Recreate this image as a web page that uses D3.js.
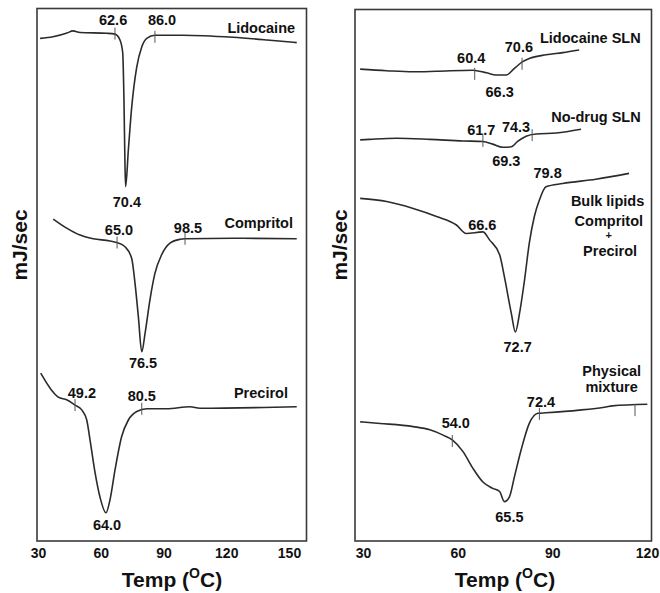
<!DOCTYPE html>
<html>
<head>
<meta charset="utf-8">
<script src="https://cdn.jsdelivr.net/npm/d3@7"></script>
<style>
  html, body { margin: 0; padding: 0; background: #fff; }
  svg { display: block; }
  text { font-family: "Liberation Sans", Arial, sans-serif; fill: #111; }
</style>
</head>
<body>
<div id="chart"></div>
<script>
// ---------------- DATA ----------------
// Tick labels (temperature, °C)
const xTicksLeft = [30, 60, 90, 120, 150];
const xTicksRight = [30, 60, 90, 120];

// Left panel thermograms: [temperature °C, heat flow (arbitrary units)]
const lidocaine = [[31.0,94.3],[37.2,94.6],[43.9,95.3],[46.7,95.7],[50.1,95.4],[63.0,95.25],[66.8,95.1],[69.2,94.0],[70.5,91.6],[71.1,82.7],[71.6,70.2],[71.9,66.5],[73.2,73.4],[74.8,81.4],[77.2,88.9],[79.6,92.7],[82.0,94.3],[85.9,94.9],[99.3,94.9],[123.2,94.5],[139.5,94.0],[153.7,93.5]];
const compritol = [[37.3,60.4],[43.7,58.7],[50.1,57.4],[56.4,56.7],[64.4,56.3],[67.6,56.0],[71.6,55.2],[74.8,53.0],[76.4,48.3],[78.0,42.0],[79.6,35.5],[81.2,39.0],[83.5,45.2],[85.9,50.2],[89.1,53.7],[93.1,55.9],[97.9,56.6],[100.3,56.7],[123.2,56.8],[153.7,56.7]];
const precirol = [[31.3,31.5],[36.5,28.3],[39.7,27.0],[43.7,26.5],[47.7,25.5],[50.9,24.6],[53.3,22.7],[54.9,18.9],[57.3,12.8],[59.6,8.3],[62.5,5.3],[64.4,7.7],[66.8,13.3],[70.0,19.6],[73.2,22.7],[77.2,24.3],[82.0,24.8],[91.5,24.8],[102.7,25.2],[107.4,24.9],[153.7,25.2]];

// Right panel thermograms
const lidocaineSLN = [[29.1,88.7],[37.5,88.4],[45.8,88.2],[53.3,88.3],[64.8,88.5],[69.1,88.0],[72.2,87.6],[75.4,87.6],[78.0,88.85],[80.6,90.1],[82.7,90.7],[88.0,91.4],[93.3,91.8],[98.5,92.3]];
const noDrugSLN = [[29.1,75.4],[32.2,75.5],[40.6,75.7],[51.2,75.5],[61.7,75.2],[68.0,75.1],[71.1,74.6],[74.3,74.0],[77.0,74.1],[79.0,75.1],[81.7,76.1],[84.9,76.5],[91.2,76.7],[99.1,77.4]];
const bulkLipids = [[29.1,64.4],[37.5,63.8],[45.9,62.5],[53.3,61.0],[59.6,59.4],[62.7,57.8],[68.0,58.1],[70.1,56.6],[73.3,53.8],[74.8,49.7],[77.0,42.8],[78.3,39.3],[79.6,42.8],[81.2,49.1],[82.7,56.0],[84.3,61.0],[85.9,64.1],[88.0,66.6],[93.3,67.2],[103.8,68.0],[114.3,69.1]];
const physicalMixture = [[29.1,22.4],[35.4,22.1],[45.9,21.5],[51.2,20.9],[55.4,19.9],[58.3,19.0],[61.7,16.8],[64.8,13.7],[68.0,11.1],[71.1,9.9],[73.3,9.3],[74.8,7.4],[76.4,8.3],[78.0,12.1],[80.1,17.1],[82.7,22.1],[85.4,24.0],[88.0,24.1],[98.5,24.6],[107.0,25.2],[109.0,25.4],[120.1,25.7]];

// Transition-temperature annotations: [text, temperature, heat-flow baseline]
const valueLabelsLeft = [["62.6",65.9,96.8],["86.0",89.3,96.8],["70.4",72.5,62.7],["65.0",68.7,57.4],["98.5",101.7,57.8],["76.5",80.2,32.5],["49.2",51.0,26.8],["80.5",79.6,26.3],["64.0",63.0,2.1]];
const nameLabelsLeft = [["Lidocaine",152.9,95.3],["Compritol",151.9,58.7],["Precirol",149.5,26.8]];
const valueLabelsRight = [["60.4",64.3,89.8],["70.6",79.4,92.0],["66.3",73.3,83.5],["61.7",67.5,76.3],["74.3",78.5,76.9],["69.3",75.4,70.4],["79.8",88.5,68.2],["66.6",67.8,58.5],["72.7",79.0,35.5],["54.0",59.4,21.2],["72.4",86.4,25.2],["65.5",76.4,3.6]];
const nameLabelsRight = [["Lidocaine SLN",118.0,93.6],["No-drug SLN",118.0,78.8]];
const blockLabelsRight = [["Bulk lipids",107.5,62.9],["Compritol",107.9,59.2],["+",107.9,56.8],["Precirol",108.3,53.6],["Physical",108.8,31.0],["mixture",108.8,28.0]];
// Onset/endset marks: [temperature, heat flow]
const marksLeft = [[66.8,95.2],[85.9,94.6],[67.8,56.0],[100.3,56.7],[47.7,25.5],[79.6,24.8]];
const marksRight = [[65.4,87.8],[80.4,89.7],[68.0,75.2],[83.6,76.3],[58.3,18.8],[85.9,23.9],[116.2,24.6]];

// ---------------- LAYOUT ----------------
const W = 660, H = 593;
const frameL = {x0: 37, x1: 306.5, y0: 8.5, y1: 541};
const frameR = {x0: 355, x1: 651.5, y0: 9.5, y1: 541};

const svg = d3.select("#chart").append("svg").attr("width", W).attr("height", H);

const xL = d3.scaleLinear().domain([30, 150]).range([38, 289]);
const xR = d3.scaleLinear().domain([30, 120]).range([363, 647]);
const yL = d3.scaleLinear().domain([0, 100]).range([frameL.y1, frameL.y1 - 533]);
const yR = d3.scaleLinear().domain([0, 100]).range([frameR.y1, frameR.y1 - 532]);

const lineColor = "#2b2b2b";

function drawPanel(frame, x, y, ticks, curves, values, names, blocks, marks, titleX, ylabX) {
  const g = svg.append("g");
  g.append("rect")
    .attr("x", frame.x0).attr("y", frame.y0)
    .attr("width", frame.x1 - frame.x0).attr("height", frame.y1 - frame.y0)
    .attr("fill", "none").attr("stroke", "#3a3a3a").attr("stroke-width", 1.6);

  const line = d3.line().x(d => x(d[0])).y(d => y(d[1])).curve(d3.curveMonotoneX);
  curves.forEach(c => {
    g.append("path").attr("d", line(c)).attr("fill", "none")
      .attr("stroke", lineColor).attr("stroke-width", 1.6).attr("stroke-linejoin", "round");
  });

  g.selectAll(null).data(marks).join("line")
    .attr("x1", d => x(d[0])).attr("x2", d => x(d[0]))
    .attr("y1", d => y(d[1]) - 6).attr("y2", d => y(d[1]) + 6)
    .attr("stroke", "#555").attr("stroke-width", 1);

  g.selectAll(null).data(values).join("text")
    .attr("x", d => x(d[1])).attr("y", d => y(d[2]))
    .attr("text-anchor", "middle").attr("font-size", 14.5).attr("font-weight", "bold")
    .text(d => d[0]);

  g.selectAll(null).data(names).join("text")
    .attr("x", d => x(d[1])).attr("y", d => y(d[2]))
    .attr("text-anchor", "end").attr("font-size", 14.5).attr("font-weight", "bold")
    .text(d => d[0]);

  g.selectAll(null).data(blocks).join("text")
    .attr("x", d => x(d[1])).attr("y", d => y(d[2]))
    .attr("text-anchor", "middle")
    .attr("font-size", d => d[0] === "+" ? 11 : 14.5).attr("font-weight", "bold")
    .text(d => d[0]);

  const axis = d3.axisBottom(x).tickValues(ticks).tickSize(0).tickPadding(7).tickFormat(d3.format("d"));
  const ag = g.append("g").attr("transform", `translate(0,${frame.y1})`).call(axis);
  ag.select(".domain").remove();
  ag.selectAll("text").attr("font-size", 14).attr("font-weight", "bold")
    .style("font-family", '"Liberation Sans", Arial, sans-serif').attr("fill", "#111");

  const t = g.append("text").attr("x", titleX).attr("y", 587)
    .attr("text-anchor", "middle").attr("font-size", 21).attr("font-weight", "bold");
  t.append("tspan").text("Temp (");
  t.append("tspan").attr("font-size", 14).attr("dy", -9).text("O");
  t.append("tspan").attr("dy", 9).text("C)");

  g.append("text").attr("transform", `translate(${ylabX},245) rotate(-90)`)
    .attr("text-anchor", "middle").attr("font-size", 21).attr("font-weight", "bold")
    .text("mJ/sec");
}

drawPanel(frameL, xL, yL, xTicksLeft, [lidocaine, compritol, precirol],
  valueLabelsLeft, nameLabelsLeft, [], marksLeft, 172, 27);
drawPanel(frameR, xR, yR, xTicksRight, [lidocaineSLN, noDrugSLN, bulkLipids, physicalMixture],
  valueLabelsRight, nameLabelsRight, blockLabelsRight, marksRight, 505, 347);
</script>
</body>
</html>
